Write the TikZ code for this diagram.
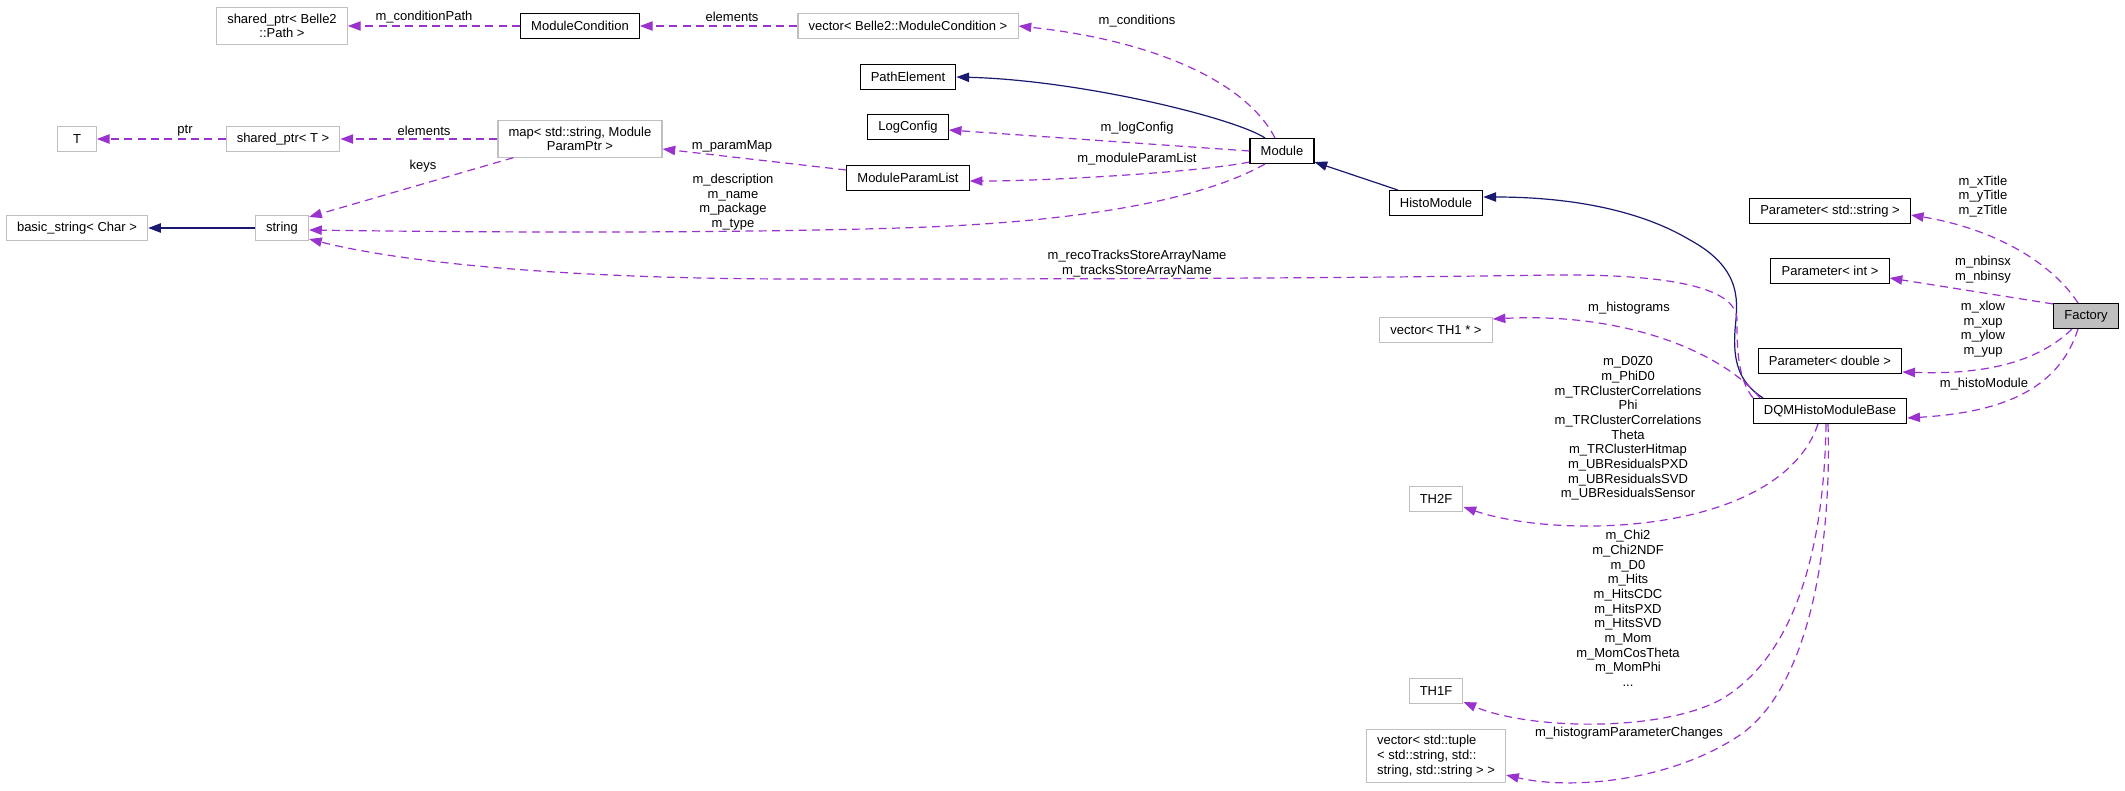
\documentclass[tikz,border=0pt]{standalone}
\usepackage{fontspec}
\setmainfont{Liberation Sans}
\usetikzlibrary{arrows.meta,calc}
\definecolor{usecol}{HTML}{9A32CD}
\definecolor{inhcol}{HTML}{191970}
\definecolor{greyline}{HTML}{BFBFBF}

\begin{document}
\begin{tikzpicture}[x=0.75pt,y=-0.75pt,
    font=\fontsize{9.75pt}{11pt}\selectfont,
    box/.style={draw=black, line width=0.8pt, fill=white, inner xsep=8pt, inner ysep=4.5pt, minimum height=18.75pt, align=center},
    gbox/.style={box, draw=greyline},
    lbl/.style={inner sep=0pt, align=center},
    usage/.style={draw=usecol, line width=0.9pt, dash pattern=on 6pt off 4pt, -{Triangle[length=9.5pt,width=7pt]}},
    inherit/.style={draw=inhcol, line width=0.9pt, -{Triangle[length=9.5pt,width=7pt]}}]
        \fill[white] (0,0) rectangle (2125,790);
        \useasboundingbox (0,0) rectangle (2125,790);
        % Undocumented classes
        \foreach \n/\x/\y/\t in {spT/283/139/shared\_ptr< T >, vecCond/908/26/vector< Belle2::ModuleCondition >,
                bstr/77/228/basic\_string< Char >, str/282/228/string, vecTH1/1436/330/vector< TH1 * >,
                th2f/1436/499/TH2F, th1f/1436/691/TH1F}
            \node[gbox] (\n) at (\x,\y) {\t};
        \node[gbox, minimum width=29pt] (tT) at (77,139) {T};
        \node[gbox] (spPath) at (282,26) {shared\_ptr< Belle2\\::Path >};
        \node[gbox] (map) at (580,139) {map< std::string, Module\\ParamPtr >};
        \node[gbox, align=left] (vecTup) at (1436,756) {vector< std::tuple\\< std::string, std::\\string, std::string > >};
        % Documented classes
        \foreach \n/\x/\y/\t in {modCond/580/26/ModuleCondition, pathEl/908/77/PathElement, logCfg/908/127/LogConfig,
                parList/908/178/ModuleParamList, module/1282/151/Module, histoMod/1436/203/HistoModule,
                dqm/1830/411/DQMHistoModuleBase, parInt/1830/271/Parameter< int >, parDbl/1830/361/Parameter< double >}
            \node[box] (\n) at (\x,\y) {\t};
        \node[box] (parStr) at (1830,211) {Parameter< std::string >};
        \node[box, fill=greyline] (factory) at (2086,316) {Factory};
        % Inheritance
        \draw[inherit] (str.west) -- (bstr.east);
        \draw[inherit] ($(module.north)+(-17,0)$) .. controls (1235,118) and (1080,80) .. (pathEl.east);
        \draw[inherit] ($(histoMod.north west)+(9,0)$) -- ($(module.south east)+(0,-2)$);
        \draw[inherit] ($(dqm.north)+(-67,0)$) .. controls (1738,382) and (1733,360) .. (1735,330)
            .. controls (1737,305) and (1745,270) .. (1690,240) .. controls (1640,210) and (1570,197) .. ($(histoMod.east)+(0,-6)$);
        % Members of the left part
        \draw[usage] (modCond.west) -- (spPath.east);
        \draw[usage] (vecCond.west) -- (modCond.east);
        \draw[usage] ($(module.north)+(-7,0)$) .. controls (1245,80) and (1150,40) .. (vecCond.east);
        \draw[usage] (module.west) -- ($(logCfg.east)+(0,3)$);
        \draw[usage] ($(module.south west)+(0,-2)$) .. controls (1200,172) and (1050,181) .. ($(parList.east)+(0,3)$);
        \draw[usage] ($(parList.west)+(0,-8)$) -- ($(map.east)+(0,10)$);
        \draw[usage] (map.west) -- (spT.east);
        \draw[usage] (spT.west) -- (tT.east);
        \draw[usage] ($(map.south west)+(16,0)$) -- ($(str.north east)+(0,2)$);
        \draw[usage] ($(module.south)+(-17,0)$) .. controls (1210,195) and (1100,222) .. (900,228)
            .. controls (700,234) and (450,232) .. ($(str.east)+(0,2)$);
        % Members of DQMHistoModuleBase
        \draw[usage] ($(dqm.north)+(-77,0)$) .. controls (1737,378) and (1737,345) .. (1737,320)
            .. controls (1737,285) and (1660,274) .. (1550,275) .. controls (1300,279) and (1000,279) .. (800,279)
            .. controls (560,279) and (400,262) .. ($(str.south east)+(0,-2)$);
        \draw[usage] ($(dqm.north)+(-70,0)$) .. controls (1725,355) and (1630,312) .. ($(vecTH1.east)+(0,-11)$);
        \draw[usage] ($(dqm.south)+(-12,0)$) .. controls (1780,535) and (1560,540) .. ($(th2f.east)+(0,8)$);
        \draw[usage] ($(dqm.south)+(-4,0)$) .. controls (1824,560) and (1790,660) .. (1720,700)
            .. controls (1660,732) and (1530,730) .. ($(th1f.east)+(0,11)$);
        \draw[usage] ($(dqm.south)+(-2,0)$) .. controls (1832,560) and (1805,690) .. (1740,735)
            .. controls (1670,782) and (1570,790) .. ($(vecTup.east)+(0,19)$);
        % Members of Factory
        \draw[usage] ($(factory.north)+(-8,0)$) .. controls (2050,260) and (1990,228) .. ($(parStr.east)+(0,4)$);
        \draw[usage] ($(factory.north west)+(0,1)$) -- ($(parInt.east)+(0,7)$);
        \draw[usage] ($(factory.south)+(-14,0)$) .. controls (2040,360) and (1990,375) .. ($(parDbl.east)+(0,11)$);
        \draw[usage] ($(factory.south)+(-8,0)$) .. controls (2060,385) and (2010,412) .. ($(dqm.east)+(0,7)$);
        % Edge labels
        \node[lbl] (lCondPath) at (424,17) {m\_conditionPath};
        \node[lbl] (lElemA) at (732,17) {elements};
        \node[lbl] (lConds) at (1137,21) {m\_conditions};
        \node[lbl] (lPtr) at (185,131) {ptr};
        \node[lbl] (lElemB) at (424,131) {elements};
        \node[lbl] (lKeys) at (423,166) {keys};
        \node[lbl] (lParamMap) at (732,146) {m\_paramMap};
        \node[lbl] (lLogCfg) at (1137,128) {m\_logConfig};
        \node[lbl] (lParList) at (1137,159) {m\_moduleParamList};
        \node[lbl] (lDescr) at (733,202) {m\_description\\m\_name\\m\_package\\m\_type};
        \node[lbl] (lReco) at (1137,263.5) {m\_recoTracksStoreArrayName\\m\_tracksStoreArrayName};
        \node[lbl] (lHists) at (1629,308) {m\_histograms};
        \node[lbl] (lTwoD) at (1628,428.5) {m\_D0Z0\\m\_PhiD0\\m\_TRClusterCorrelations\\Phi\\m\_TRClusterCorrelations\\Theta\\m\_TRClusterHitmap\\m\_UBResidualsPXD\\m\_UBResidualsSVD\\m\_UBResidualsSensor};
        \node[lbl] (lOneD) at (1628,608.5) {m\_Chi2\\m\_Chi2NDF\\m\_D0\\m\_Hits\\m\_HitsCDC\\m\_HitsPXD\\m\_HitsSVD\\m\_Mom\\m\_MomCosTheta\\m\_MomPhi\\...};
        \node[lbl] (lParChg) at (1629,733) {m\_histogramParameterChanges};
        \node[lbl] (lTitles) at (1983,196.5) {m\_xTitle\\m\_yTitle\\m\_zTitle};
        \node[lbl] (lBins) at (1983,269.5) {m\_nbinsx\\m\_nbinsy};
        \node[lbl] (lRange) at (1983,329) {m\_xlow\\m\_xup\\m\_ylow\\m\_yup};
        \node[lbl] (lHistoMod) at (1984,384) {m\_histoModule};
    \end{tikzpicture}
\end{document}
